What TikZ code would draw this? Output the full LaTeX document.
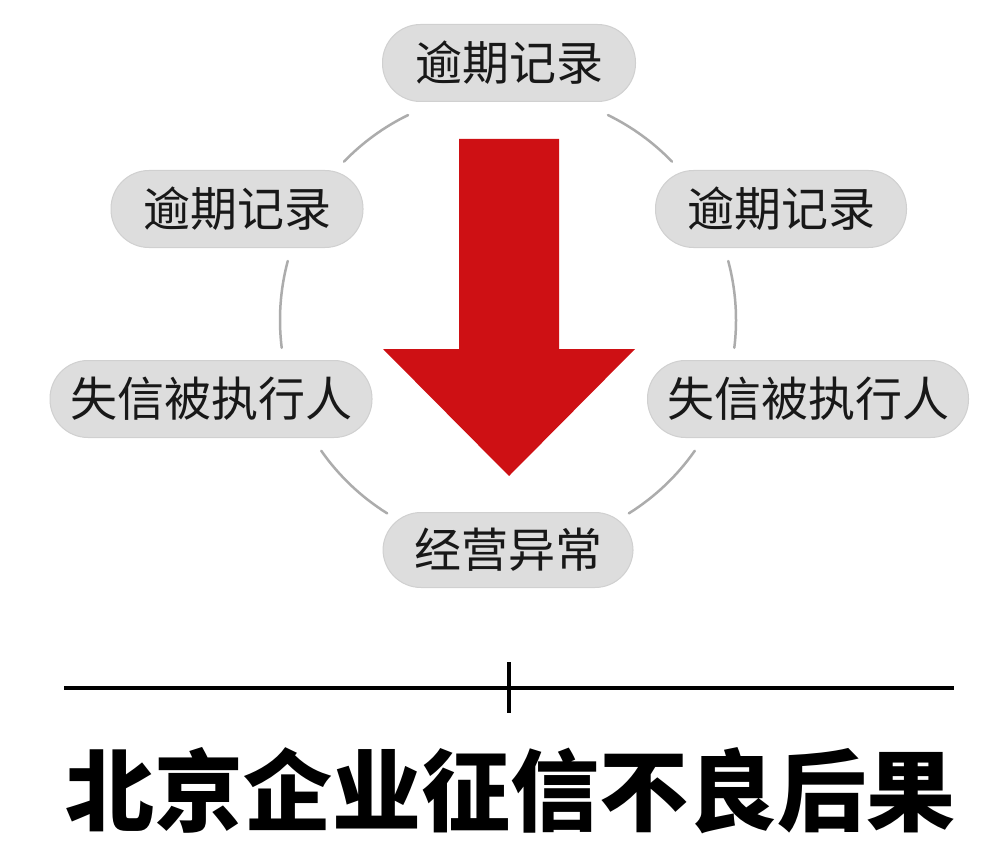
\documentclass[tikz,border=0pt]{standalone}
\usepackage{fontspec}
\newfontfamily\cjk{Noto Sans CJK SC}
\definecolor{pillfill}{RGB}{221,221,221}
\definecolor{pilledge}{RGB}{208,208,208}
\definecolor{ringgray}{RGB}{172,172,172}
\definecolor{arrowred}{RGB}{206,16,20}
\definecolor{pilltext}{RGB}{24,24,24}
\tikzset{
  pill/.style={rectangle, rounded corners=38pt, fill=pillfill, draw=pilledge, line width=1pt,
    minimum height=77pt, inner sep=0pt, text=pilltext,
    font=\cjk\fontsize{47pt}{50pt}\selectfont},
  ring/.style={draw=ringgray, line width=2.5pt, line cap=round},
  rule/.style={draw=black, line width=4pt},
  tickmark/.style={draw=black, line width=4.5pt},
  titletext/.style={font=\cjk\bfseries\fontsize{89pt}{95pt}\selectfont, text=black, inner sep=0pt}
}
\begin{document}
\begin{tikzpicture}[x=1pt, y=-1pt]
\useasboundingbox[fill=white] (0,0) rectangle (1000,850);
\coordinate (c) at (508,320);
% ring arcs between pills
\draw[ring] (c) ++(-116:228) arc[start angle=-116, end angle=-136, radius=228];
\draw[ring] (c) ++(-165:228) arc[start angle=-165, end angle=-187, radius=228];
\draw[ring] (c) ++(145:228) arc[start angle=145, end angle=122, radius=228];
\draw[ring] (c) ++(-64:228) arc[start angle=-64, end angle=-44, radius=228];
\draw[ring] (c) ++(-15:228) arc[start angle=-15, end angle=7, radius=228];
\draw[ring] (c) ++(35:228) arc[start angle=35, end angle=58, radius=228];
% red arrow
\fill[arrowred] (459,139) -- (559,139) -- (559,349) -- (635,349) -- (509,476) -- (383,349) -- (459,349) -- cycle;
% pills
\node[pill, minimum width=253pt] (top) at (509,63) {逾期记录};
\node[pill, minimum width=252pt] (ul) at (237,209) {逾期记录};
\node[pill, minimum width=251pt] (ur) at (781,209) {逾期记录};
\node[pill, minimum width=322pt] (ll) at (211,399) {失信被执行人};
\node[pill, minimum width=321pt] (lr) at (808,399) {失信被执行人};
\node[pill, minimum width=250pt, minimum height=75pt] (bot) at (508,550) {经营异常};
% rule with tick
\coordinate (rl) at (64,688);
\coordinate (rr) at (954,688);
\coordinate (tt) at (509,662);
\coordinate (tb) at (509,713);
\draw[rule] (rl) -- (rr);
\draw[tickmark] (tt) -- (tb);
% title
\node[titletext] (title) at (510,791) {北京企业征信不良后果};
\end{tikzpicture}
\end{document}
